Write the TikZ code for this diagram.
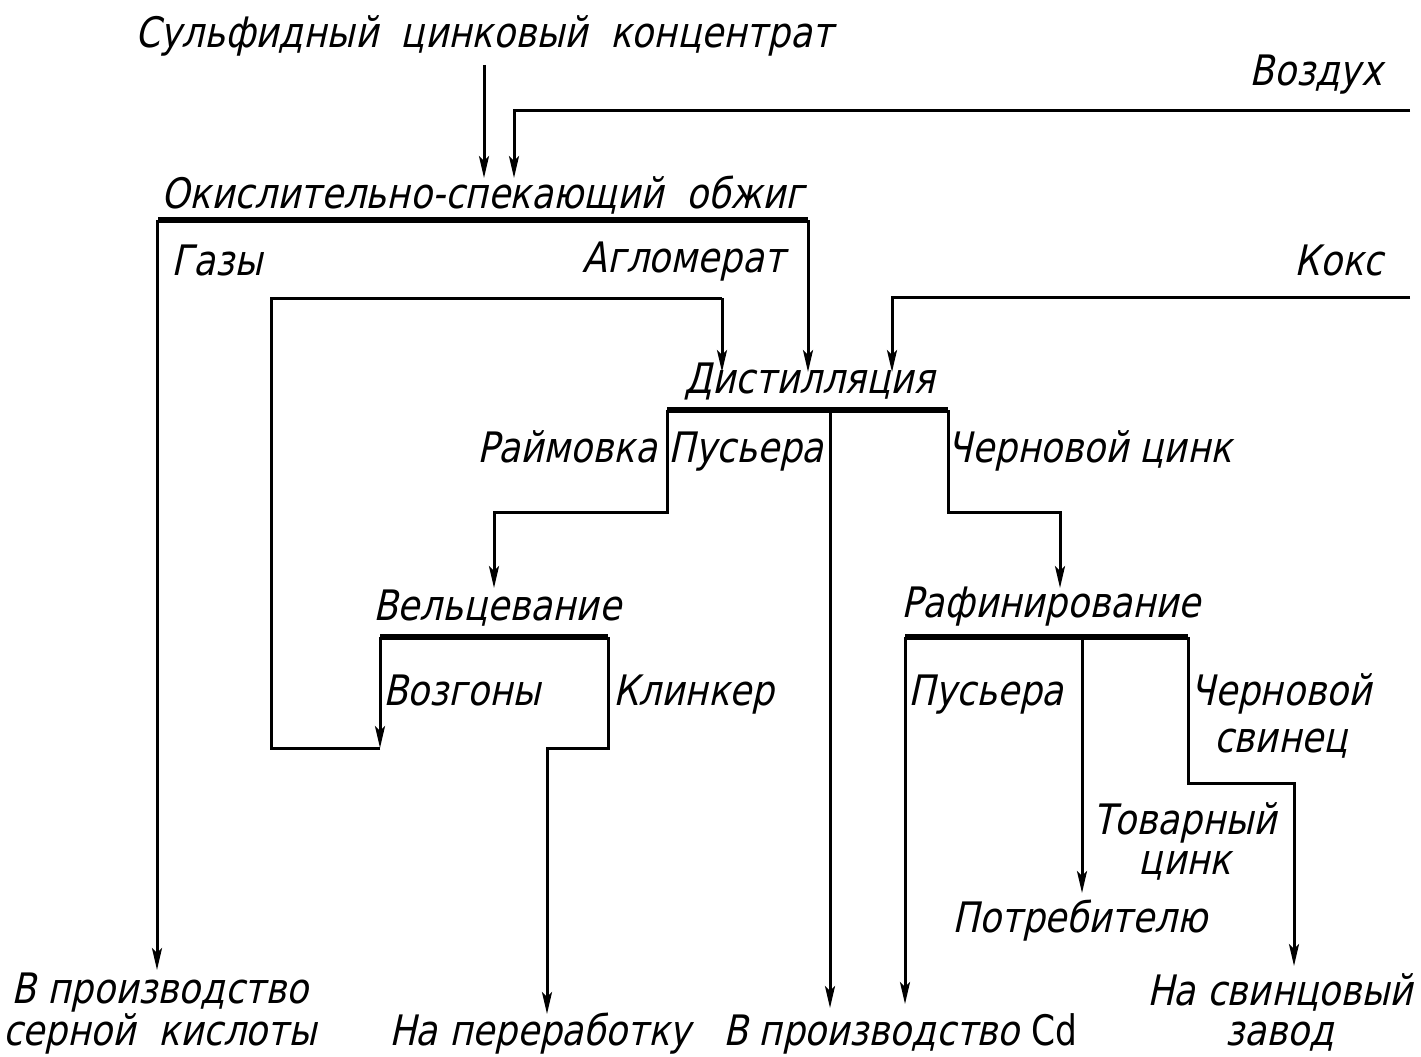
\documentclass[tikz,border=0pt]{standalone}
\usepackage{fontspec}
\setmainfont{DejaVu Sans}[FakeSlant=0.22, FakeStretch=0.85]
\usetikzlibrary{arrows.meta}
\begin{document}
\begin{tikzpicture}[x=1pt,y=-1pt,
  txt/.style={inner sep=0pt, anchor=base, font=\fontsize{42}{40}\selectfont},
  flow/.style={line width=3pt, line join=miter},
  arr/.style={flow, -{Stealth[length=22pt,width=10pt,inset=5pt]}},
  bar/.style={line width=6pt}]
\useasboundingbox (0,0) rectangle (1421,1057);
\fill[white] (0,0) rectangle (1421,1057);

% text nodes (multi-line nodes are placed at the baseline of their last line)
\node[txt] (conc) at (484,48) {Сульфидный\ \ цинковый\ \ концентрат};
\node[txt] (air) at (1316,85) {Воздух};
\node[txt] (roast) at (483,208) {Окислительно-спекающий\ \ обжиг};
\node[txt] (gas) at (217,275) {Газы};
\node[txt] (aggl) at (684,272) {Агломерат};
\node[txt] (coke) at (1339,275) {Кокс};
\node[txt] (dist) at (810,393) {Дистилляция};
\node[txt] (raim) at (567,462) {Раймовка};
\node[txt] (pus1) at (746,462) {Пусьера};
\node[txt] (crzn) at (1090,462) {Черновой цинк};
\node[txt] (welz) at (497,620) {Вельцевание};
\node[txt] (refin) at (1051,617) {Рафинирование};
\node[txt] (vozg) at (462,705) {Возгоны};
\node[txt] (klink) at (694,705) {Клинкер};
\node[txt] (pus2) at (986,705) {Пусьера};
\node[txt, align=center] (crpb) at (1281,752) {Черновой\\[7pt]свинец};
\node[txt, align=center] (tzn) at (1185,874) {Товарный\\цинк};
\node[txt] (cons) at (1080,932) {Потребителю};
\node[txt, align=center] (acid) at (160,1045) {В производство\\серной\ \ кислоты};
\node[txt] (rework) at (540,1045) {На переработку};
\node[txt] (cd) at (900,1045) {В производство {\fontspec{DejaVu Sans}[FakeStretch=0.82]Cd}};
\node[txt, align=center] (pb) at (1280,1045) {На свинцовый\\завод};

% junction coordinates
\coordinate (airin) at (1410,110);
\coordinate (cokein) at (1410,297);
\coordinate (rbL) at (158,220);
\coordinate (rbR) at (808,220);
\coordinate (dbL) at (667,410);
\coordinate (dbM) at (830,410);
\coordinate (dbR) at (948,410);
\coordinate (wbL) at (380,637);
\coordinate (wbR) at (608,637);
\coordinate (fbL) at (905,637);
\coordinate (fbM) at (1082,637);
\coordinate (fbR) at (1188,637);

% bars
\draw[bar] (rbL) -- (rbR);
\draw[bar] (dbL) -- (dbR);
\draw[bar] (wbL) -- (wbR);
\draw[bar] (fbL) -- (fbR);

% inputs to roasting
\draw[arr] (conc.south -| 484,0) ++(0,8) -- (484,178);
\draw[arr] (airin) -- (514,110) -- (514,178);

% from roasting
\draw[arr] (rbL -| 157,0) -- (157,970);
\draw[arr] (rbR) -- (808,372);

% coke
\draw[arr] (cokein) -- (892,297) -- (892,372);

% loop: sublimates back to distillation
\draw[arr] (wbL) -- (380,748);
\draw[flow] (380,748) -- (271,748) -- (271,298) -- (722,298);
\draw[arr] (722,298) -- (722,372);

% from distillation
\draw[arr] (dbL) -- (667,512) -- (494,512) -- (494,588);
\draw[arr] (dbM) -- (830,1008);
\draw[arr] (dbR) -- (948,512) -- (1060,512) -- (1060,588);

% from welzing
\draw[arr] (wbR) -- (608,748) -- (547,748) -- (547,1014);

% from refining
\draw[arr] (fbL) -- (905,1004);
\draw[arr] (fbM) -- (1082,893);
\draw[arr] (fbR) -- (1188,783) -- (1294,783) -- (1294,966);
\end{tikzpicture}
\end{document}
